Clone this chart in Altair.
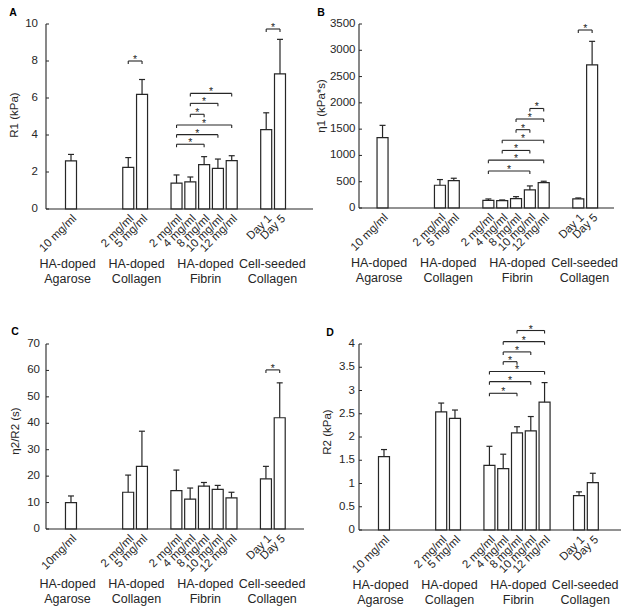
import altair as alt
import pandas as pd

FONT = "Liberation Sans"
INK = "#262626"

# ---- categories ----
group_names = ["HA-doped\nAgarose", "HA-doped\nCollagen", "HA-doped\nFibrin", "Cell-seeded\nCollagen"]
group_pos = [1.2, 6.2, 11.2, 16.05]
sample_pos = [1.45, 5.6, 6.6, 9.1, 10.1, 11.1, 12.1, 13.1, 15.6, 16.6]
labels_std = ["10 mg/ml", "2 mg/ml", "5 mg/ml", "2 mg/ml", "4 mg/ml", "8 mg/ml",
              "10 mg/ml", "12 mg/ml", "Day 1", "Day 5"]
labels_c = ["10mg/ml", "2 mg/ml", "5 mg/ml", "2 mg/ml", "4 mg/ml", "8 mg/ml",
            "10 mg/ml", "12 mg/ml", "Day 1", "Day 5"]

# ---- panel A: R1 (kPa) ----
mean_a = [2.6, 2.25, 6.2, 1.4, 1.47, 2.4, 2.2, 2.61, 4.29, 7.3]
err_a = [0.35, 0.53, 0.8, 0.44, 0.26, 0.43, 0.5, 0.27, 0.91, 1.87]
sig_a = [(1, 2, 8.0), (3, 5, 3.5), (3, 6, 4.02), (3, 7, 4.54), (4, 5, 5.12),
         (4, 6, 5.71), (4, 7, 6.25), (8, 9, 9.73)]
ticks_a = [0, 2, 4, 6, 8, 10]

# ---- panel B: eta1 (kPa*s) ----
mean_b = [1340, 433, 522, 146, 140, 178, 344, 484, 172, 2724]
err_b = [232, 108, 44, 26, 13, 38, 76, 25, 19, 446]
sig_b = [(3, 6, 703), (3, 7, 910), (4, 6, 1095), (4, 7, 1290), (5, 6, 1490),
         (5, 7, 1693), (6, 7, 1893), (8, 9, 3386)]
ticks_b = [0, 500, 1000, 1500, 2000, 2500, 3000, 3500]

# ---- panel C: eta2/R2 (s) ----
mean_c = [10.0, 13.9, 23.7, 14.5, 11.3, 16.2, 15.0, 11.8, 19.0, 42.1]
err_c = [2.5, 6.5, 13.3, 7.8, 4.2, 1.4, 1.5, 2.1, 4.7, 13.2]
sig_c = [(8, 9, 60.2)]
ticks_c = [0, 10, 20, 30, 40, 50, 60, 70]

# ---- panel D: R2 (kPa) ----
mean_d = [1.58, 2.54, 2.40, 1.39, 1.32, 2.09, 2.13, 2.75, 0.74, 1.02]
err_d = [0.15, 0.19, 0.18, 0.41, 0.31, 0.13, 0.31, 0.42, 0.08, 0.20]
sig_d = [(3, 5, 2.94), (3, 6, 3.19), (3, 7, 3.41), (4, 5, 3.62), (4, 6, 3.83),
         (4, 7, 4.05), (5, 7, 4.29)]
ticks_d = [0, 0.5, 1, 1.5, 2, 2.5, 3, 3.5, 4]


def panel(letter, ytitle, means, errs, sigs, ticks, labels, width, height,
          xdom, label_pad, title_xy, letter_xy):
    df = pd.DataFrame({
        "x": sample_pos,
        "y": means,
        "top": [m + e for m, e in zip(means, errs)],
        "label": labels,
    })
    bdf = pd.DataFrame({
        "x": [sample_pos[i] for i, j, v in sigs],
        "x2": [sample_pos[j] for i, j, v in sigs],
        "y": [v for i, j, v in sigs],
    })
    bdf["xm"] = (bdf["x"] + bdf["x2"]) / 2
    edf = pd.DataFrame({
        "x": list(bdf["x"]) + list(bdf["x2"]),
        "y": list(bdf["y"]) + list(bdf["y"]),
    })
    gdf = pd.DataFrame({"x": group_pos, "t": group_names})
    tdf = pd.DataFrame({"y": ticks, "t": [f"{t:g}" for t in ticks]})
    ttl = pd.DataFrame({"t": [ytitle]})
    let = pd.DataFrame({"t": [letter]})
    one = pd.DataFrame({"k": [0]})

    xs = alt.Scale(domain=xdom, nice=False, zero=False)
    ys = alt.Scale(domain=[0, ticks[-1]], nice=False, zero=True)
    XN = lambda f: alt.X(f, axis=None, title=None)
    YN = lambda f: alt.Y(f, axis=None, title=None)

    bars = alt.Chart(df).mark_bar(size=11, fill="white", stroke=INK, strokeWidth=1.2).encode(
        x=alt.X("x:Q", scale=xs, axis=None, title=None),
        y=alt.Y("y:Q", scale=ys, axis=None, title=None),
    )
    stem = alt.Chart(df).mark_rule(color=INK, strokeWidth=1.2).encode(
        x=XN("x:Q"), y=YN("y:Q"), y2="top:Q")
    cap = alt.Chart(df).mark_rule(color=INK, strokeWidth=1.2, xOffset=-3, x2Offset=3).encode(
        x=XN("x:Q"), x2="x:Q", y=YN("top:Q"))
    brk = alt.Chart(bdf).mark_rule(color=INK, strokeWidth=1.1).encode(
        x=XN("x:Q"), x2="x2:Q", y=YN("y:Q"))
    ends = alt.Chart(edf).mark_rule(color=INK, strokeWidth=1.1, y2Offset=3).encode(
        x=XN("x:Q"), y=YN("y:Q"), y2="y:Q")
    stars = alt.Chart(bdf).mark_text(text="*", font=FONT, fontSize=10.5, color=INK,
                                     baseline="alphabetic", dy=2).encode(
        x=XN("xm:Q"), y=YN("y:Q"))
    labs = alt.Chart(df).mark_text(angle=315, align="right", baseline="middle", xOffset=4,
                                   font=FONT, fontSize=11.5, color=INK).encode(
        x=XN("x:Q"), y=alt.value(height + 8), text="label:N")
    grp = alt.Chart(gdf).mark_text(lineBreak="\n", align="center", baseline="top",
                                   font=FONT, fontSize=12.5, lineHeight=14.5, color=INK).encode(
        x=XN("x:Q"), y=alt.value(height + 49), text="t:N")
    # y axis: line, inward ticks, labels; x axis line
    yline = alt.Chart(one).mark_rule(color=INK, strokeWidth=1.1).encode(
        x=alt.value(0), y=alt.value(0), y2=alt.value(height))
    xline = alt.Chart(one).mark_rule(color=INK, strokeWidth=1.1).encode(
        x=alt.value(0), x2=alt.value(width), y=alt.value(height))
    yt = alt.Chart(tdf).mark_rule(color=INK, strokeWidth=1).encode(
        x=alt.value(0), x2=alt.value(3), y=YN("y:Q"))
    ylab = alt.Chart(tdf).mark_text(align="right", baseline="middle", font=FONT,
                                    fontSize=11.5, color=INK).encode(
        x=alt.value(-label_pad), y=YN("y:Q"), text="t:N")
    title = alt.Chart(ttl).mark_text(angle=270, align="center", baseline="middle",
                                     font=FONT, fontSize=11.5, color=INK).encode(
        x=alt.value(title_xy[0]), y=alt.value(title_xy[1]), text="t:N")
    lett = alt.Chart(let).mark_text(align="center", baseline="alphabetic", font=FONT,
                                    fontSize=10.5, fontWeight="bold", color="black").encode(
        x=alt.value(letter_xy[0]), y=alt.value(letter_xy[1]), text="t:N")

    return alt.layer(bars, stem, cap, brk, ends, stars, labs, grp, yline, xline, yt, ylab,
                     title, lett).properties(width=width, height=height)


pa = panel("A", "R1 (kPa)", mean_a, err_a, sig_a, ticks_a, labels_std, 267, 185,
           [0, 18.63], 8, (-31, 91), (-33, -8.5))
pb = panel("B", "η1 (kPa*s)", mean_b, err_b, sig_b, ticks_b, labels_std, 255, 184,
           [0.11, 17.82], 3.5, (-37, 82), (-38, -8.5))
pc = panel("C", "η2/R2 (s)", mean_c, err_c, sig_c, ticks_c, labels_c, 258, 185,
           [0, 18.0], 6, (-30, 87), (-31, -9))
pd_ = panel("D", "R2 (kPa)", mean_d, err_d, sig_d, ticks_d, labels_std, 265, 186,
            [0, 18.5], 4, (-31, 88), (-29, -8))

chart = alt.concat(pa, pb, pc, pd_, columns=2, spacing={"row": 135, "column": 46},
                   bounds="flush", align="none").configure_view(
    stroke=None).properties(
        padding={"left": 38, "top": 16, "right": 0, "bottom": 0},
        background="white")

patch = [
    {"op": "add", "path": "/autosize", "value": "none"},
    {"op": "add", "path": "/width", "value": 575},
    {"op": "add", "path": "/height", "value": 583},
]

chart.save("out.html", embed_options={"renderer": "svg", "actions": False, "patch": patch})
